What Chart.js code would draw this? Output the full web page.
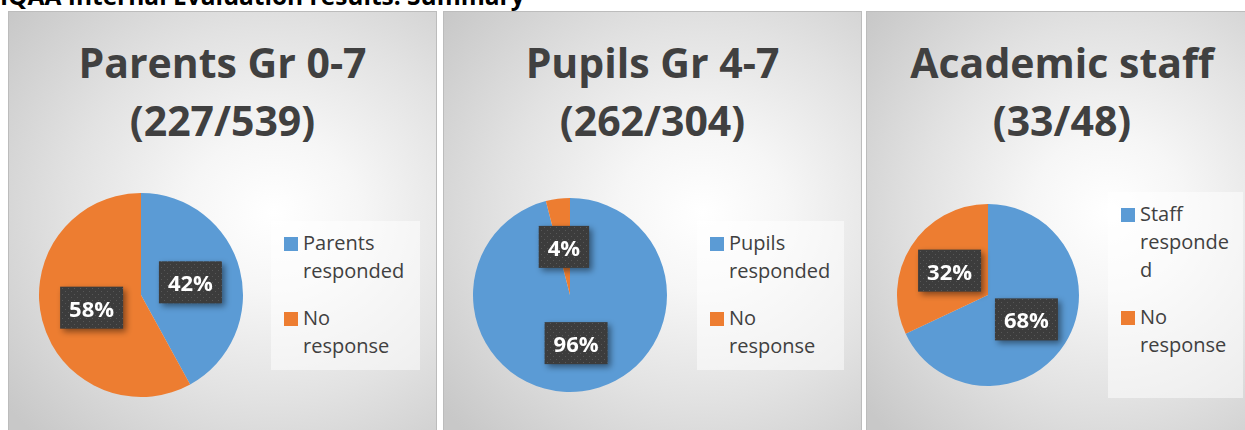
<!DOCTYPE html>
<html lang="en">
<head>
<meta charset="UTF-8">
<script src="https://cdn.jsdelivr.net/npm/chart.js"></script>
<style>
  body { margin: 0; width: 1245px; height: 430px; overflow: hidden; background: #fff; position: relative; font-family: "Open Sans", sans-serif; }
  #head { position: absolute; left: 0; top: -16px; font-size: 24.5px; font-weight: 700; line-height: 24.5px; color: #000; white-space: nowrap; }
  .panel { position: absolute; top: 11px; height: 480px; box-sizing: border-box; border: 1px solid #bcbcbc;
           background: radial-gradient(ellipse 80% 65% at 62% 42%, #ffffff 0%, #f6f6f6 25%, #e2e2e2 60%, #c8c8c8 100%); }
  .ttl { position: absolute; left: 0; right: 0; top: 21px; text-align: center; font-size: 41px; font-weight: 700; line-height: 58px; color: #404040; }
  .pie { position: absolute; }
  .lg { position: absolute; box-sizing: border-box; padding-top: 8px; background: rgba(255,255,255,0.5); }
  .item { display: flex; align-items: flex-start; margin-bottom: 19px; }
  .sw { width: 14px; height: 14px; margin-top: 8px; margin-right: 5px; flex: none; }
  .txt { font-size: 20px; line-height: 28px; color: #404040; overflow-wrap: break-word; }
</style>
</head>
<body>
<div id="head">IQAA Internal Evaluation results:  Summary</div>

<script>
  // data
  const titles = [['Parents Gr 0-7', '(227/539)'], ['Pupils Gr 4-7', '(262/304)'], ['Academic staff', '(33/48)']];
  const respondedLabels = ['Parents responded', 'Pupils responded', 'Staff responded'];
  const noResponseLabel = 'No response';
  const responded = [42, 96, 68];
  const noResponse = [58, 4, 32];

  const colors = ['#5b9bd5', '#ed7d31'];

  // layout of each panel (page pixels)
  const panels = [
    { x: 8,   w: 429, cx: 141, cy: 295, r: 102, lg: [271, 221, 149, 149], txtW: 108 },
    { x: 443, w: 419, cx: 570, cy: 295, r: 97,  lg: [697, 221, 147, 149], txtW: 108 },
    { x: 866, w: 392, cx: 988, cy: 295, r: 91,  lg: [1108, 192, 135, 206], txtW: 97 }
  ];

  // dark dotted box behind the percentages
  function boxPattern(ctx) {
    const c = document.createElement('canvas');
    c.width = 6; c.height = 6;
    const g = c.getContext('2d');
    g.fillStyle = '#3c3c3c';
    g.fillRect(0, 0, 6, 6);
    g.fillStyle = '#575757';
    g.fillRect(1, 1, 1, 1);
    g.fillRect(4, 4, 1, 1);
    return ctx.createPattern(c, 'repeat');
  }

  const pctLabels = {
    id: 'pctLabels',
    afterDatasetsDraw(chart) {
      const ctx = chart.ctx;
      const meta = chart.getDatasetMeta(0);
      ctx.save();
      ctx.font = 'bold 22px "Open Sans"';
      meta.data.forEach((arc, i) => {
        const p = arc.tooltipPosition();
        const txt = chart.data.datasets[0].data[i] + '%';
        const w = ctx.measureText(txt).width + 18;
        const h = 42;
        ctx.save();
        ctx.shadowColor = 'rgba(0,0,0,0.45)';
        ctx.shadowBlur = 6;
        ctx.shadowOffsetX = 3;
        ctx.shadowOffsetY = 3;
        ctx.fillStyle = boxPattern(ctx);
        ctx.fillRect(p.x - w / 2, p.y - h / 2, w, h);
        ctx.restore();
        ctx.fillStyle = '#ffffff';
        ctx.textAlign = 'center';
        ctx.textBaseline = 'alphabetic';
        ctx.fillText(txt, p.x, p.y + 9);
      });
      ctx.restore();
    }
  };

  panels.forEach((pn, k) => {
    const panel = document.createElement('div');
    panel.className = 'panel';
    panel.style.left = pn.x + 'px';
    panel.style.width = pn.w + 'px';
    const ttl = document.createElement('div');
    ttl.className = 'ttl';
    ttl.innerHTML = titles[k].join('<br>');
    panel.appendChild(ttl);
    document.body.appendChild(panel);

    // legend
    const lg = document.createElement('div');
    lg.className = 'lg';
    lg.style.left = pn.lg[0] + 'px';
    lg.style.top = pn.lg[1] + 'px';
    lg.style.width = pn.lg[2] + 'px';
    lg.style.height = pn.lg[3] + 'px';
    lg.style.paddingLeft = '13px';
    [respondedLabels[k], noResponseLabel].forEach((t, i) => {
      const it = document.createElement('div');
      it.className = 'item';
      const sw = document.createElement('div');
      sw.className = 'sw';
      sw.style.background = colors[i];
      const tx = document.createElement('div');
      tx.className = 'txt';
      tx.style.width = pn.txtW + 'px';
      tx.textContent = t;
      it.appendChild(sw);
      it.appendChild(tx);
      lg.appendChild(it);
    });
    document.body.appendChild(lg);

    // pie
    const m = 8;
    const cv = document.createElement('canvas');
    cv.className = 'pie';
    const size = 2 * (pn.r + m);
    cv.width = size; cv.height = size;
    cv.style.left = (pn.cx - pn.r - m) + 'px';
    cv.style.top = (pn.cy - pn.r - m) + 'px';
    document.body.appendChild(cv);

    new Chart(cv.getContext('2d'), {
      type: 'pie',
      data: {
        labels: [respondedLabels[k], noResponseLabel],
        datasets: [{
          data: [responded[k], noResponse[k]],
          backgroundColor: colors,
          borderWidth: 0
        }]
      },
      options: {
        responsive: false,
        animation: false,
        layout: { padding: m },
        plugins: { legend: { display: false }, tooltip: { enabled: false } }
      },
      plugins: [pctLabels]
    });
  });
</script>
</body>
</html>
